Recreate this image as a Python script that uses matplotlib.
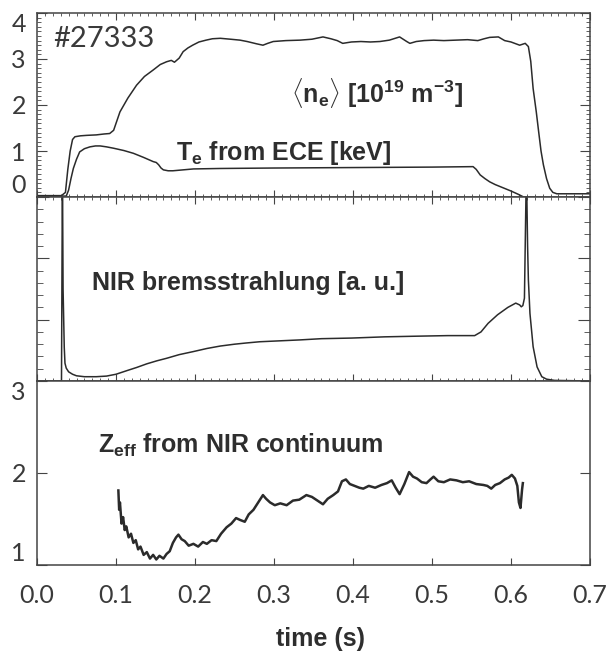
import matplotlib
matplotlib.use("Agg")
import matplotlib.pyplot as plt
from matplotlib.ticker import MultipleLocator

# line-averaged density [1e19 m^-3]
t_ne = [0.0, 0.031, 0.036, 0.039, 0.042, 0.045, 0.048, 0.055, 0.063, 0.075,
        0.085, 0.092, 0.097, 0.105, 0.115, 0.126, 0.136, 0.147, 0.156, 0.164,
        0.170, 0.174, 0.180, 0.185, 0.191, 0.197, 0.205, 0.214, 0.222, 0.232,
        0.245, 0.257, 0.266, 0.278, 0.286, 0.292, 0.299, 0.315, 0.333, 0.348,
        0.362, 0.372, 0.380, 0.387, 0.398, 0.410, 0.422, 0.434, 0.446, 0.459,
        0.468, 0.472, 0.480, 0.490, 0.502, 0.515, 0.530, 0.545, 0.558, 0.566,
        0.573, 0.584, 0.592, 0.600, 0.611, 0.618, 0.622, 0.625, 0.628, 0.632,
        0.635, 0.638, 0.641, 0.645, 0.649, 0.653, 0.658, 0.7]
ne = [0.03, 0.03, 0.1, 0.6, 1.0, 1.25, 1.31, 1.33, 1.34, 1.35,
      1.37, 1.38, 1.45, 1.85, 2.15, 2.43, 2.62, 2.76, 2.88, 2.94,
      2.97, 2.93, 3.02, 3.16, 3.24, 3.30, 3.37, 3.41, 3.44, 3.45,
      3.43, 3.41, 3.38, 3.33, 3.30, 3.34, 3.38, 3.40, 3.41, 3.43,
      3.48, 3.44, 3.40, 3.34, 3.37, 3.38, 3.37, 3.38, 3.41, 3.48,
      3.38, 3.34, 3.38, 3.40, 3.41, 3.40, 3.41, 3.42, 3.40, 3.44,
      3.47, 3.48, 3.40, 3.37, 3.30, 3.34, 3.27, 2.95, 2.36, 1.85,
      1.42, 1.00, 0.70, 0.40, 0.19, 0.10, 0.07, 0.07]

# Te from ECE [keV]
t_te = [0.0, 0.037, 0.040, 0.043, 0.046, 0.050, 0.054, 0.060, 0.067, 0.074,
        0.080, 0.088, 0.097, 0.110, 0.122, 0.135, 0.147, 0.151, 0.154, 0.157,
        0.160, 0.166, 0.172, 0.185, 0.198, 0.232, 0.300, 0.400, 0.500, 0.552,
        0.556, 0.561, 0.567, 0.573, 0.580, 0.590, 0.600, 0.609, 0.616, 0.7]
te = [0.02, 0.02, 0.15, 0.40, 0.62, 0.82, 0.98, 1.05, 1.09, 1.11,
      1.11, 1.09, 1.06, 1.01, 0.95, 0.86, 0.77, 0.75, 0.70, 0.63,
      0.59, 0.57, 0.57, 0.59, 0.61, 0.62, 0.63, 0.64, 0.65, 0.66,
      0.60, 0.48, 0.40, 0.33, 0.27, 0.20, 0.13, 0.06, 0.0, -0.05]

# NIR bremsstrahlung [a.u.]
t_nir = [0.0, 0.031, 0.0322, 0.0330, 0.0345, 0.0354, 0.037, 0.040, 0.045, 0.050,
         0.060, 0.075, 0.088, 0.100, 0.114, 0.126, 0.139, 0.152, 0.164, 0.180,
         0.198, 0.215, 0.232, 0.250, 0.265, 0.282, 0.299, 0.333, 0.360, 0.398,
         0.440, 0.478, 0.520, 0.554, 0.562, 0.571, 0.583, 0.596, 0.606, 0.611,
         0.613, 0.615, 0.617, 0.6195, 0.621, 0.622, 0.624, 0.628, 0.633, 0.639,
         0.645, 0.655, 0.7]
nir = [0.0, 0.0, 3.5, 1.5, 0.55, 0.29, 0.21, 0.15, 0.11, 0.085,
       0.07, 0.07, 0.08, 0.11, 0.17, 0.22, 0.28, 0.33, 0.37, 0.43,
       0.48, 0.53, 0.57, 0.60, 0.62, 0.64, 0.65, 0.67, 0.69, 0.70,
       0.72, 0.73, 0.74, 0.74, 0.80, 0.94, 1.08, 1.20, 1.27, 1.24,
       1.21, 1.23, 1.35, 3.5, 2.2, 1.65, 1.10, 0.56, 0.23, 0.07,
       0.03, 0.01, 0.0]

# Zeff from NIR continuum
t_zeff = [0.103, 0.104, 0.105, 0.107, 0.109, 0.111, 0.113, 0.116, 0.119, 0.122,
          0.125, 0.128, 0.131, 0.135, 0.139, 0.143, 0.147, 0.151, 0.155, 0.160,
          0.164, 0.168, 0.172, 0.176, 0.179, 0.183, 0.187, 0.192, 0.198, 0.204,
          0.210, 0.215, 0.221, 0.227, 0.233, 0.240, 0.246, 0.252, 0.257, 0.263,
          0.268, 0.274, 0.280, 0.286, 0.290, 0.295, 0.301, 0.308, 0.316, 0.324,
          0.332, 0.341, 0.348, 0.355, 0.362, 0.368, 0.375, 0.381, 0.386, 0.391,
          0.396, 0.402, 0.408, 0.413, 0.420, 0.428, 0.436, 0.443, 0.449, 0.454,
          0.459, 0.465, 0.471, 0.476, 0.481, 0.487, 0.493, 0.498, 0.502, 0.508,
          0.515, 0.523, 0.531, 0.539, 0.547, 0.556, 0.565, 0.570, 0.575, 0.580,
          0.586, 0.592, 0.597, 0.601, 0.605, 0.608, 0.610, 0.612, 0.613, 0.614,
          0.615]
zeff = [1.81, 1.60, 1.68, 1.45, 1.52, 1.38, 1.42, 1.30, 1.34, 1.24,
        1.27, 1.17, 1.20, 1.11, 1.14, 1.07, 1.11, 1.06, 1.10, 1.07,
        1.12, 1.15, 1.24, 1.30, 1.33, 1.28, 1.26, 1.21, 1.23, 1.20,
        1.25, 1.23, 1.27, 1.26, 1.34, 1.41, 1.45, 1.51, 1.49, 1.47,
        1.55, 1.60, 1.68, 1.76, 1.72, 1.68, 1.65, 1.67, 1.65, 1.70,
        1.71, 1.76, 1.74, 1.70, 1.66, 1.72, 1.76, 1.80, 1.91, 1.93,
        1.88, 1.86, 1.84, 1.83, 1.86, 1.84, 1.87, 1.89, 1.92, 1.84,
        1.77, 1.88, 2.01, 1.96, 1.94, 1.90, 1.89, 1.93, 1.96, 1.91,
        1.90, 1.93, 1.92, 1.90, 1.91, 1.88, 1.87, 1.86, 1.83, 1.87,
        1.89, 1.93, 1.95, 1.98, 1.94, 1.86, 1.68, 1.62, 1.72, 1.82,
        1.89]

line_col = "#2b2b2b"
frame_col = "#444444"
text_col = "#2e2e2e"
tick_font = dict(family=["Lato", "DejaVu Sans"], weight="normal", size=18,
                 color="#3a3a3a")
label_font = dict(family=["Liberation Sans", "DejaVu Sans"], weight="bold", size=18)

plt.rcParams["mathtext.fontset"] = "custom"
plt.rcParams["mathtext.rm"] = "Liberation Sans:bold"
plt.rcParams["mathtext.it"] = "Liberation Sans:bold"
plt.rcParams["mathtext.bf"] = "Liberation Sans:bold"

fig = plt.figure(figsize=(6.12, 6.55), dpi=100)
left, width, h = 37 / 612, 553 / 612, 184 / 655
ax1 = fig.add_axes([left, 1 - 197 / 655, width, h])
ax2 = fig.add_axes([left, 1 - 381 / 655, width, h])
ax3 = fig.add_axes([left, 1 - 565 / 655, width, h])

for ax in (ax1, ax2, ax3):
    ax.set_xlim(0, 0.7)
    for sp in ax.spines.values():
        sp.set_color(frame_col)
        sp.set_linewidth(1.1)
    ax.xaxis.set_major_locator(MultipleLocator(0.1))

# panel 1: density and Te
ax1.plot(t_ne, ne, color=line_col, lw=1.1)
ax1.plot(t_te, te, color=line_col, lw=1.1)
ax1.set_ylim(0, 4)
ax1.yaxis.set_major_locator(MultipleLocator(1))
ax1.yaxis.set_minor_locator(MultipleLocator(0.1))
ax1.xaxis.set_minor_locator(MultipleLocator(0.01))
ax1.tick_params(axis="both", which="both", direction="in", top=True, right=True,
                color=frame_col, labelbottom=False)
ax1.tick_params(axis="y", which="major", length=7)
ax1.tick_params(axis="y", which="minor", length=3)
ax1.tick_params(axis="x", which="major", length=5)
ax1.tick_params(axis="x", which="minor", length=2.5)
ax1.set_yticks([0, 1, 2, 3, 4])
ax1.set_yticklabels(["0", "1", "2", "3", "4"], **tick_font)
ax1.tick_params(axis="y", pad=8)
ylabs = ax1.get_yticklabels()
ylabs[0].set_va("bottom")
ylabs[-1].set_va("top")
ax1.text(0.02, 3.27, "#27333", fontsize=21, family=["Lato", "DejaVu Sans"],
         color="#3a3a3a", va="baseline")
ax1.text(0.321, 2.05, r"$\langle$n$_\mathrm{e}\rangle$ [10$^{19}$ m$^{-3}$]",
         color=text_col, va="baseline", **label_font)
ax1.text(0.176, 0.80, r"T$_\mathrm{e}$ from ECE [keV]", color=text_col,
         va="baseline", **label_font)

# panel 2: NIR bremsstrahlung
ax2.plot(t_nir, nir, color=line_col, lw=1.1)
ax2.set_ylim(0, 3)
ax2.yaxis.set_major_locator(MultipleLocator(1))
ax2.yaxis.set_minor_locator(MultipleLocator(0.2))
ax2.xaxis.set_minor_locator(MultipleLocator(0.01))
ax2.tick_params(axis="both", which="both", direction="in", top=True, right=True,
                color=frame_col, labelbottom=False, labelleft=False)
ax2.tick_params(axis="y", which="major", length=8.5)
ax2.tick_params(axis="y", which="minor", length=4)
ax2.tick_params(axis="x", which="major", length=5)
ax2.tick_params(axis="x", which="minor", length=2.5)
ax2.text(0.069, 1.48, "NIR bremsstrahlung [a. u.]", color=text_col,
         va="baseline", **label_font)

# panel 3: Zeff
ax3.plot(t_zeff, zeff, color=line_col, lw=1.8)
ax3.set_ylim(1, 3)
ax3.set_yticks([1, 2, 3])
ax3.set_yticklabels(["1", "2", "3"], **tick_font)
ax3.tick_params(axis="both", which="both", direction="in", right=True, top=False,
                color=frame_col)
ax3.tick_params(axis="y", which="major", length=7, pad=8)
ax3.tick_params(axis="x", which="major", length=5, pad=14)
ylabs3 = ax3.get_yticklabels()
ylabs3[0].set_va("bottom")
ylabs3[-1].set_va("top")
ax3.set_xticks([0.0, 0.1, 0.2, 0.3, 0.4, 0.5, 0.6, 0.7])
ax3.set_xticklabels(["0.0", "0.1", "0.2", "0.3", "0.4", "0.5", "0.6", "0.7"],
                    **tick_font)
ax3.text(0.077, 2.22, r"Z$_\mathrm{eff}$ from NIR continuum", color=text_col,
         va="baseline", **label_font)

fig.text(321 / 612, 1 - 646 / 655, "time (s)", ha="center", va="baseline",
         color=text_col, **label_font)

fig.savefig("out.png", dpi=100, facecolor="white")
